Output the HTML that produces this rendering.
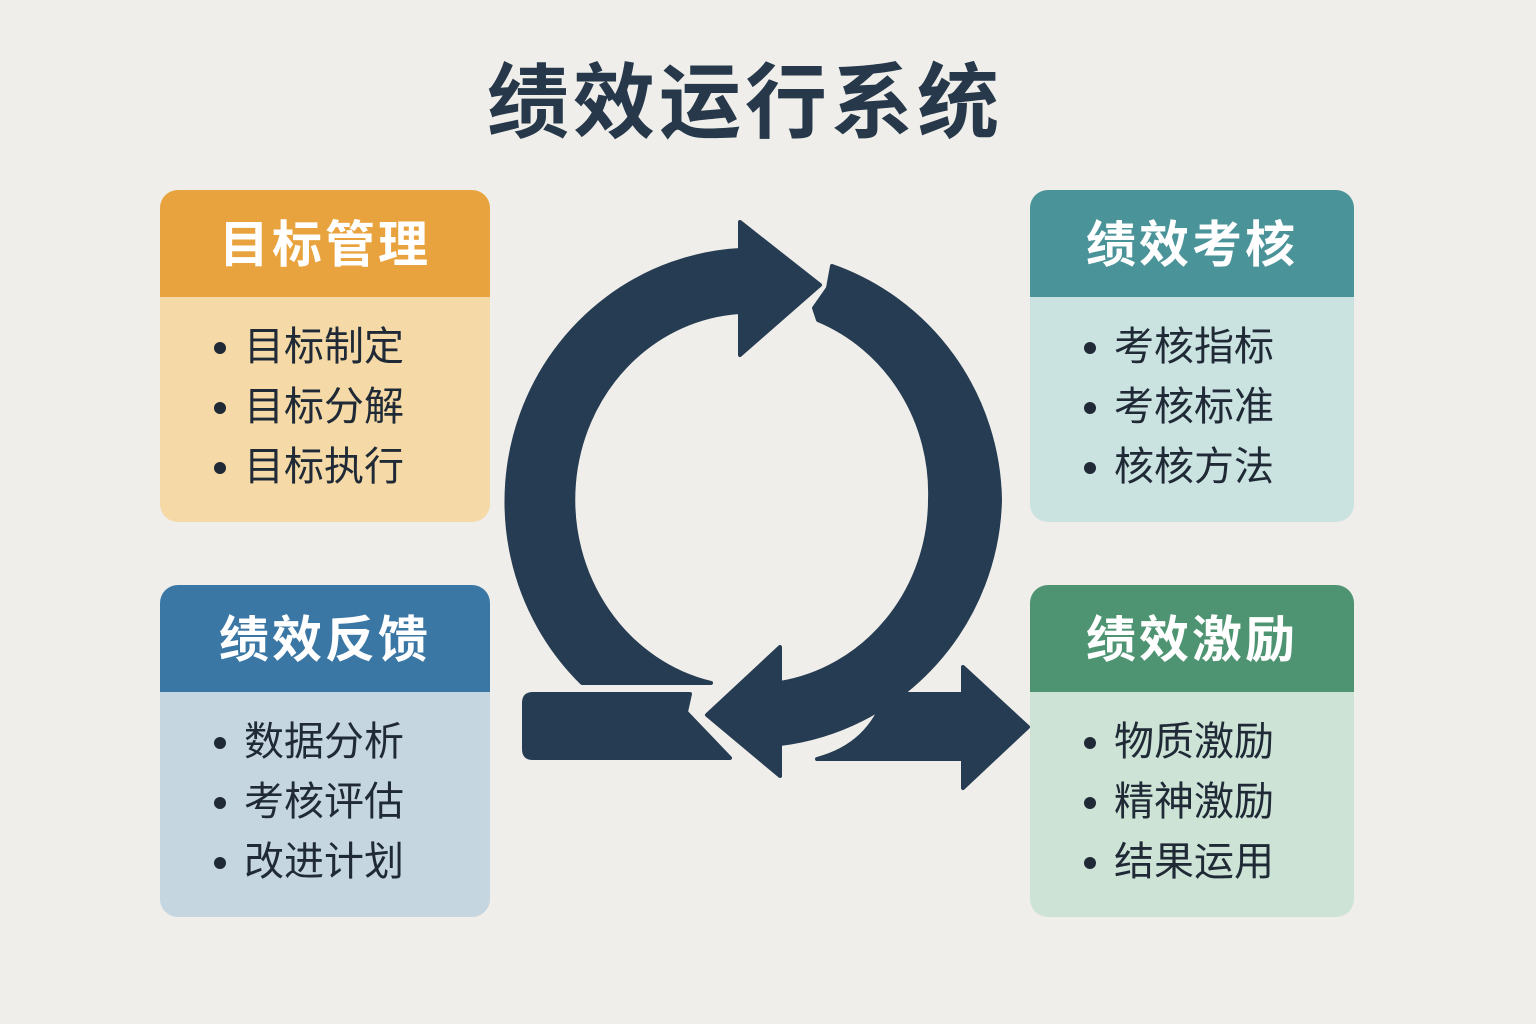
<!DOCTYPE html>
<html><head><meta charset="utf-8"><style>
body{margin:0;width:1536px;height:1024px;background:#efeeea;font-family:"Liberation Sans","Noto Sans CJK SC",sans-serif;position:relative;overflow:hidden}
.t{position:absolute;left:0;width:1490px;top:36px;text-align:center;font-size:82px;font-weight:bold;color:#26384a;letter-spacing:4px}
.box{position:absolute;width:330px;height:332px;border-radius:18px;overflow:hidden}
.h{height:107px;line-height:110px;text-align:center;color:#fff;font-size:50px;font-weight:bold;letter-spacing:3px}
.b{padding-top:20px}
.i{height:60px;line-height:60px;font-size:40px;color:#1f2a36;padding-left:50px;position:relative}
.i:before{content:"";position:absolute;left:54px;top:25px;width:12px;height:12px;border-radius:50%;background:#1f2a36}
.i span{margin-left:34px}
</style></head><body>
<div class="t">绩效运行系统</div>
<div class="box" style="left:160px;top:190px;background:#f5d9a6"><div class="h" style="background:#e8a33e">目标管理</div><div class="b"><div class="i"><span>目标制定</span></div><div class="i"><span>目标分解</span></div><div class="i"><span>目标执行</span></div></div></div>
<div class="box" style="left:160px;top:585px;background:#c5d6e0"><div class="h" style="background:#3b77a5">绩效反馈</div><div class="b"><div class="i"><span>数据分析</span></div><div class="i"><span>考核评估</span></div><div class="i"><span>改进计划</span></div></div></div>
<div class="box" style="left:1030px;top:190px;width:324px;background:#cbe3e0"><div class="h" style="background:#4a9399">绩效考核</div><div class="b"><div class="i"><span>考核指标</span></div><div class="i"><span>考核标准</span></div><div class="i"><span>核核方法</span></div></div></div>
<div class="box" style="left:1030px;top:585px;width:324px;background:#cde3d6"><div class="h" style="background:#4e9472">绩效激励</div><div class="b"><div class="i"><span>物质激励</span></div><div class="i"><span>精神激励</span></div><div class="i"><span>结果运用</span></div></div></div>
<svg width="1536" height="1024" style="position:absolute;left:0;top:0" fill="#263c52" stroke="#263c52" stroke-linejoin="round" stroke-width="4">
<path d="M582,683 A247 252 0 0 1 740 250 L740 222 L820 285 L740 355 L740 312 A177 188 0 0 0 711 683 Z"/>
<path d="M832,266 A250 252 0 0 1 1000 500 A250 252 0 0 1 780 744 L780 776 L707 715 L780 647 L780 683 A178 186 0 0 0 930 500 A178 186 0 0 0 818 320 L814 308 L828 288 Z"/>
<path d="M533,694 L690,694 L686,712 L730,758 L533,758 Q524,758 524,749 L524,703 Q524,694 533,694 Z"/>
<path d="M817,759 Q870,745 886,694 L963,694 L963,667 L1028,727 L963,788 L963,759 Z"/>
</svg>
</body></html>
